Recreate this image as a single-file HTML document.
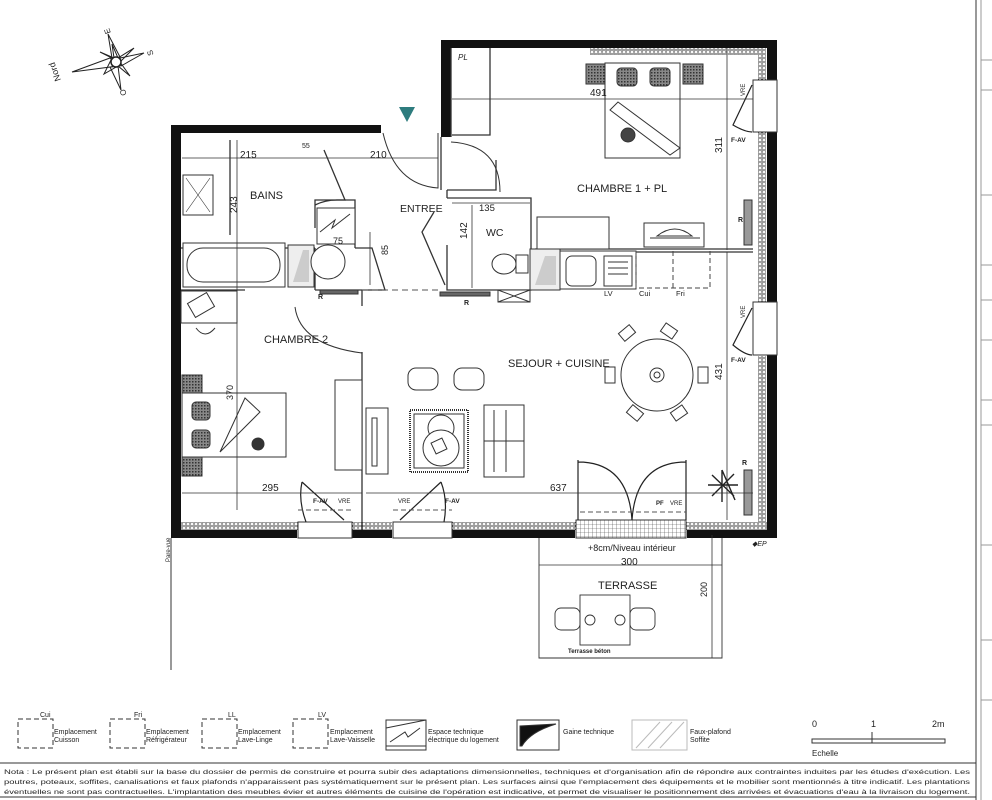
<!DOCTYPE html>
<html><head><meta charset="utf-8"><style>
html,body{margin:0;padding:0;background:#fff}
svg{display:block}
text{font-family:"Liberation Sans",sans-serif;fill:#222}
</style></head><body>
<svg width="992" height="800" viewBox="0 0 992 800" xmlns="http://www.w3.org/2000/svg">
<defs>
<pattern id="hz" width="4" height="4" patternUnits="userSpaceOnUse"><rect width="4" height="4" fill="#fff"/><circle cx="2" cy="2" r="1.2" fill="none" stroke="#222" stroke-width="0.7"/></pattern>
<pattern id="grid" width="4" height="4" patternUnits="userSpaceOnUse"><rect width="4" height="4" fill="#fff"/><path d="M0 0H4M0 0V4" stroke="#444" stroke-width="0.6"/></pattern>
<pattern id="check" width="3" height="3" patternUnits="userSpaceOnUse"><rect width="3" height="3" fill="#888"/><rect width="1.5" height="1.5" fill="#333"/></pattern>
</defs>

<!-- right frame lines -->
<line x1="976" y1="0" x2="976" y2="800" stroke="#333"/>
<line x1="981" y1="0" x2="981" y2="800" stroke="#999"/>
<path d="M981 60H992M981 90H992M981 195H992M981 265H992M981 300H992M981 340H992M981 400H992M981 425H992M981 545H992M981 640H992M981 700H992" stroke="#999"/>

<!-- compass -->
<g stroke="#222" fill="none" stroke-width="1">
<polygon points="72,72 110,58 118,66" fill="#fff"/>
<polygon points="108,34 112,58 120,57" />
<polygon points="144,53 120,58 121,66"/>
<polygon points="121,90 118,66 110,67"/>
<polygon points="100,52 112,58 104,74 118,66 130,76 120,62 134,48 118,58 112,44 114,58"/>
<circle cx="116" cy="62" r="5" fill="#fff" stroke-width="1.5"/>
</g>
<text x="0" y="0" font-size="9" transform="translate(61,80) rotate(-110)">Nord</text>
<text x="104" y="34" font-size="8" transform="rotate(-110 107 31)">E</text>
<text x="146" y="57" font-size="8" transform="rotate(-110 149 53)">S</text>
<text x="119" y="97" font-size="8" transform="rotate(-110 122 93)">O</text>

<!-- entry arrow -->
<polygon points="399,107 415,107 407,122" fill="#2e7c7e"/>

<!-- hatch bands inside right and bottom walls -->
<rect x="758" y="48" width="8" height="483" fill="url(#hz)"/>
<rect x="181" y="522" width="586" height="8" fill="url(#hz)"/>
<rect x="590" y="48" width="176" height="7" fill="url(#hz)"/>

<!-- walls -->
<g fill="#111">
<rect x="171" y="125" width="10" height="413"/>
<rect x="171" y="125" width="210" height="8"/>
<rect x="441" y="40" width="10" height="97"/>
<rect x="441" y="40" width="336" height="8"/>
<rect x="767" y="40" width="10" height="42"/>
<rect x="767" y="132" width="10" height="170"/>
<rect x="767" y="355" width="10" height="183"/>
<rect x="171" y="530" width="126" height="8"/>
<rect x="352" y="530" width="40" height="8"/>
<rect x="452" y="530" width="123" height="8"/>
<rect x="687" y="530" width="90" height="8"/>
</g>
<!-- windows on right -->
<g fill="#fff" stroke="#333">
<rect x="753" y="80" width="24" height="52"/>
<rect x="753" y="302" width="24" height="53"/>
<rect x="298" y="522" width="54" height="16"/>
<rect x="393" y="522" width="59" height="16"/>
<rect x="576" y="520" width="110" height="18" fill="url(#grid)"/>
</g>
<g stroke="#222" fill="none" stroke-width="1.2">
<path d="M752 85 L733 125 Q745 132 752 132"/>
<path d="M752 308 L733 345 Q745 355 752 355"/>
<path d="M302 482 L344 520 M306 522 Q298 500 302 482"/>
<path d="M441 482 L400 520 M444 522 Q448 500 441 482"/>
<path d="M578 460 V520 M686 460 V520 M578 462 Q628 462 632 520 M686 462 Q636 462 632 520"/>
</g>
<text x="737" y="96" font-size="6" transform="rotate(-90 741 92)">VRE</text>
<text x="731" y="142" font-size="6.5" font-weight="bold">F-AV</text>
<text x="737" y="318" font-size="6" transform="rotate(-90 741 314)">VRE</text>
<text x="731" y="362" font-size="6.5" font-weight="bold">F-AV</text>
<text x="313" y="503" font-size="6.5" font-weight="bold">F-AV</text><text x="338" y="503" font-size="6">VRE</text>
<text x="398" y="503" font-size="6">VRE</text><text x="445" y="503" font-size="6.5" font-weight="bold">F-AV</text>
<text x="656" y="505" font-size="6" font-weight="bold">PF</text><text x="670" y="505" font-size="6">VRE</text>
<path d="M298 510H352M393 510H452M580 512H686" stroke="#555" stroke-dasharray="5 3" fill="none"/>

<!-- interior partitions -->
<g stroke="#333" fill="none" stroke-width="1.3">
<path d="M451 137 V48"/>
<path d="M490 48 V135 H452"/>
<path d="M441 137 V190 M447 190 V198"/>
<path d="M496 160 V190 H447"/>
<path d="M447 198 H531 V290 H447 V245"/>
<path d="M434 212 L422 232 L445 285"/>
<path d="M315 248 V290 M315 290 H362 M362 290 V306 M362 352 V530"/>
<path d="M181 248 H315"/>
<path d="M181 290 H245"/>
<path d="M535 249 H753 M535 252 H753"/>
<path d="M315 228 V200 H355 V248"/>
<path d="M355 248 H372 L385 290 H362"/>
<path d="M324 150 L345 200 L337 200 Q325 200 315 205"/>
<path d="M230 140 V235"/>
</g>
<path d="M362 290 H440 M545 290 H560" stroke="#555" stroke-dasharray="6 4" fill="none"/>
<!-- door arcs -->
<g stroke="#333" fill="none" stroke-width="1">
<path d="M383 133 Q395 185 438 188 V133"/>
<path d="M451 142 Q500 145 500 192"/>
<path d="M295 307 Q300 345 362 353"/>
</g>

<!-- bath items -->
<g stroke="#333" fill="#fff" stroke-width="1">
<rect x="183" y="175" width="30" height="40"/>
<path d="M186 178 L210 212 M210 178 L186 212" stroke-width="0.6"/>
<rect x="183" y="243" width="102" height="44"/>
<rect x="187" y="248" width="93" height="34" rx="16"/>
<rect x="288" y="245" width="26" height="42" fill="#eee"/>
<polygon points="293,282 303,250 309,250 309,282" fill="#ccc" stroke="none"/>
<circle cx="328" cy="262" r="17"/>
<rect x="317" y="208" width="38" height="36"/>
<path d="M320 232 L335 220 L332 228 L350 214" />
<rect x="320" y="290" width="38" height="4" fill="#666"/>
<rect x="181" y="291" width="56" height="32"/>
<rect x="190" y="297" width="22" height="16" transform="rotate(-30 201 305)"/>
<path d="M196 328 Q205 340 215 328"/>
<rect x="182" y="375" width="20" height="20" fill="url(#check)"/>
<rect x="182" y="456" width="20" height="20" fill="url(#check)"/>
<rect x="182" y="393" width="104" height="64"/>
<rect x="192" y="402" width="18" height="18" rx="4" fill="url(#check)"/>
<rect x="192" y="430" width="18" height="18" rx="4" fill="url(#check)"/>
<path d="M220 452 L245 398 L260 412 Z"/>
<circle cx="258" cy="444" r="6" fill="#333"/>
<rect x="335" y="380" width="27" height="90"/>
<rect x="366" y="408" width="22" height="66"/>
<rect x="372" y="418" width="5" height="48"/>
<rect x="408" y="368" width="30" height="22" rx="8"/>
<rect x="454" y="368" width="30" height="22" rx="8"/>
<rect x="410" y="410" width="58" height="62" stroke-dasharray="1 1" stroke-width="2"/>
<rect x="414" y="414" width="50" height="54"/>
<circle cx="441" cy="428" r="13"/>
<circle cx="441" cy="448" r="18"/>
<rect x="433" y="440" width="12" height="12" transform="rotate(-25 439 446)"/>
<rect x="484" y="405" width="40" height="72"/>
<path d="M494 410 V472 M506 410 V472 M484 441 H524"/>
<circle cx="657" cy="375" r="36"/>
<circle cx="657" cy="375" r="7"/><circle cx="657" cy="375" r="3"/>
<rect x="586" y="64" width="20" height="20" fill="url(#check)"/>
<rect x="683" y="64" width="20" height="20" fill="url(#check)"/>
<rect x="605" y="63" width="75" height="95"/>
<rect x="617" y="68" width="20" height="18" rx="4" fill="url(#check)"/>
<rect x="650" y="68" width="20" height="18" rx="4" fill="url(#check)"/>
<path d="M610 110 L618 102 L680 148 L670 155 Z"/>
<circle cx="628" cy="135" r="7" fill="#444"/>
<rect x="644" y="223" width="60" height="24"/>
<path d="M657 236 Q675 222 692 236 Z M650 238 H700"/>
<rect x="537" y="217" width="72" height="32"/>
<rect x="530" y="249" width="30" height="41" fill="#eee"/>
<polygon points="535,285 545,256 556,256 556,285" fill="#ccc" stroke="none"/>
<rect x="560" y="251" width="76" height="38"/>
<rect x="566" y="256" width="30" height="30" rx="6"/>
<rect x="604" y="256" width="28" height="30"/>
<path d="M608 262H628M608 268H628M608 274H628"/>
<ellipse cx="504" cy="264" rx="12" ry="10"/>
<rect x="516" y="255" width="12" height="18"/>
<rect x="498" y="290" width="32" height="12"/>
<path d="M498 290 L530 302 M530 290 L498 302"/>
<rect x="440" y="292" width="50" height="4" fill="#666"/>
<rect x="744" y="200" width="8" height="45" fill="#999"/>
<rect x="744" y="470" width="8" height="45" fill="#999"/>
</g>
<path d="M636 251 V288 H710 V251 M673 251 V288" stroke="#444" stroke-dasharray="5 3" fill="none"/>
<!-- chairs around table -->
<g stroke="#333" fill="#fff">
<rect x="620" y="328" width="14" height="10" transform="rotate(-40 627 333)"/>
<rect x="662" y="326" width="14" height="10" transform="rotate(35 669 331)"/>
<rect x="605" y="367" width="10" height="16"/>
<rect x="698" y="367" width="10" height="16"/>
<rect x="628" y="408" width="14" height="10" transform="rotate(40 635 413)"/>
<rect x="672" y="408" width="14" height="10" transform="rotate(-35 679 413)"/>
</g>
<g stroke="#222" stroke-width="1.4">
<path d="M722 470 L735 500 M708 485 L738 485 M712 475 L734 496 M734 474 L712 496 M722 470 V502"/>
</g>

<!-- dimension lines -->
<g stroke="#333" stroke-width="0.8" fill="none">
<path d="M182 158 H438"/>
<path d="M237 140 V510"/>
<path d="M452 203 H530"/>
<path d="M472 205 V288"/>
<path d="M370 232 V285"/>
<path d="M452 99 H753"/>
<path d="M727 48 V250 M727 252 V520"/>
<path d="M182 493 H362 M366 493 H753"/>
<path d="M539 565 H722 M712 535 V658"/>
</g>

<!-- labels -->
<g font-size="10">
<text x="240" y="158">215</text>
<text x="370" y="158">210</text>
<text x="479" y="211" font-size="9.5">135</text>
<text x="590" y="96">491</text>
<text x="262" y="491">295</text>
<text x="550" y="491">637</text>
<text x="250" y="199" font-size="11">BAINS</text>
<text x="400" y="212" font-size="10.5">ENTREE</text>
<text x="486" y="236" font-size="10.5">WC</text>
<text x="577" y="192" font-size="11">CHAMBRE 1 + PL</text>
<text x="264" y="343" font-size="11">CHAMBRE 2</text>
<text x="508" y="367" font-size="11">SEJOUR + CUISINE</text>
<text x="333" y="244" font-size="9">75</text>
<text x="604" y="296" font-size="7.5">LV</text>
<text x="639" y="296" font-size="7.5">Cui</text>
<text x="676" y="296" font-size="7.5">Fri</text>
<text x="318" y="299" font-size="7" font-weight="bold">R</text>
<text x="464" y="305" font-size="7" font-weight="bold">R</text>
<text x="738" y="222" font-size="7" font-weight="bold">R</text>
<text x="742" y="465" font-size="7" font-weight="bold">R</text>
<text x="458" y="60" font-size="8" font-style="italic">PL</text>
<text x="302" y="148" font-size="7">55</text>
<text x="238" y="220" transform="rotate(-90 234 217)">243</text>
<text x="468" y="246" transform="rotate(-90 464 243)">142</text>
<text x="389" y="262" transform="rotate(-90 385 259)" font-size="9">85</text>
<text x="723" y="160" transform="rotate(-90 719 157)">311</text>
<text x="723" y="387" transform="rotate(-90 719 384)">431</text>
<text x="234" y="407" transform="rotate(-90 230 404)" font-size="9">370</text>
</g>

<!-- terrace -->
<g stroke="#333" fill="none" stroke-width="0.9">
<path d="M539 538 V658 H722 V538"/>
<rect x="580" y="595" width="50" height="50" fill="#fff"/>
<rect x="555" y="608" width="25" height="22" rx="6"/>
<rect x="630" y="608" width="25" height="22" rx="6"/>
<circle cx="590" cy="620" r="5"/><circle cx="620" cy="620" r="5"/>
</g>
<text x="588" y="551" font-size="9">+8cm/Niveau intérieur</text>
<text x="621" y="565" font-size="10">300</text>
<text x="598" y="589" font-size="11">TERRASSE</text>
<text x="707" y="605" font-size="9" transform="rotate(-90 703 601)">200</text>
<text x="568" y="653" font-size="6" font-weight="bold">Terrasse béton</text>
<text x="752" y="546" font-size="7" font-style="italic">◆EP</text>
<path d="M171 538 V670" stroke="#333"/>
<text x="168" y="570" font-size="6" transform="rotate(-90 165 565)">Pare-vue</text>

<!-- legend -->
<g stroke="#333" fill="none" stroke-dasharray="5 3">
<rect x="18" y="719" width="35" height="29"/>
<rect x="110" y="719" width="35" height="29"/>
<rect x="202" y="719" width="35" height="29"/>
<rect x="293" y="719" width="35" height="29"/>
</g>
<g font-size="7">
<text x="40" y="717">Cui</text><text x="134" y="717">Fri</text><text x="228" y="717">LL</text><text x="318" y="717">LV</text>
<text x="54" y="734">Emplacement</text><text x="54" y="742">Cuisson</text>
<text x="146" y="734">Emplacement</text><text x="146" y="742">Réfrigérateur</text>
<text x="238" y="734">Emplacement</text><text x="238" y="742">Lave-Linge</text>
<text x="330" y="734">Emplacement</text><text x="330" y="742">Lave-Vaisselle</text>
<text x="428" y="734">Espace technique</text><text x="428" y="742">électrique du logement</text>
<text x="563" y="734">Gaine technique</text>
<text x="690" y="734">Faux-plafond</text><text x="690" y="742">Soffite</text>
<text x="812" y="727" font-size="9">0</text><text x="871" y="727" font-size="9">1</text><text x="932" y="727" font-size="9">2m</text>
<text x="812" y="756" font-size="8">Echelle</text>
</g>
<g stroke="#333" fill="#fff">
<rect x="386" y="720" width="40" height="30"/>
<path d="M386 728 L426 720 M390 742 L405 732 L408 737 L420 728 M386 746 H426" fill="none"/>
<rect x="517" y="720" width="42" height="30"/>
<path d="M520 746 L520 726 L556 724 Q530 732 522 746 Z" fill="#111"/>
<rect x="632" y="720" width="55" height="30" stroke="#bbb"/>
<path d="M636 748 L660 722 M648 748 L672 722 M660 748 L684 722" stroke="#bbb" fill="none"/>
<rect x="812" y="739" width="133" height="4" fill="#fff"/>
<path d="M872 732 V743" fill="none"/>
</g>
<line x1="0" y1="763" x2="976" y2="763" stroke="#333"/>
<line x1="0" y1="797" x2="976" y2="797" stroke="#333"/>
<g font-size="6.6">
<text x="4" y="774" textLength="966" lengthAdjust="spacingAndGlyphs">Nota : Le présent plan est établi sur la base du dossier de permis de construire et pourra subir des adaptations dimensionnelles, techniques et d'organisation afin de répondre aux contraintes induites par les études d'exécution. Les</text>
<text x="4" y="784" textLength="966" lengthAdjust="spacingAndGlyphs">poutres, poteaux, soffites, canalisations et faux plafonds n'apparaissent pas systématiquement sur le présent plan. Les surfaces ainsi que l'emplacement des équipements et le mobilier sont mentionnés à titre indicatif. Les plantations</text>
<text x="4" y="794" textLength="966" lengthAdjust="spacingAndGlyphs">éventuelles ne sont pas contractuelles. L'implantation des meubles évier et autres éléments de cuisine de l'opération est indicative, et permet de visualiser le positionnement des arrivées et évacuations d'eau à la livraison du logement.</text>
</g>
</svg>
</body></html>
